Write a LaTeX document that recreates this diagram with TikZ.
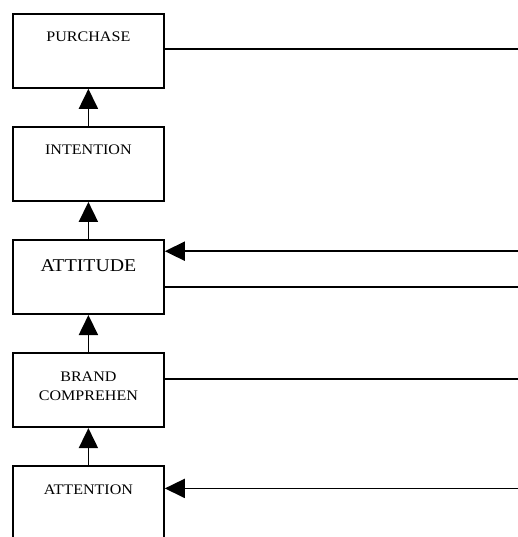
\documentclass[tikz,border=0pt]{standalone}
\usepackage{fontspec}
\setmainfont[FakeStretch=1.1]{Liberation Serif}
\usetikzlibrary{arrows.meta, positioning}

\begin{document}
\begin{tikzpicture}[
	x=1pt, y=-1pt,
	node distance=37.3pt and 0em,
	block/.style={rectangle, draw, line width=1.8pt, fill=white,
		minimum width=151pt, text width=147pt, align=center,
		inner xsep=2pt, inner ysep=0pt, text height=28pt, text depth=46pt,
		font=\fontsize{14.6}{19}\selectfont},
	line/.style={draw, line width=1.8pt},
	feed/.style={line, -{Triangle[length=20pt, width=19pt]}},
	]
	\useasboundingbox (0,0) rectangle (518,537);
	\coordinate (rim) at (518,0);
	
	\node [block, anchor=north west] (purchase) at (12,13) {PURCHASE};
	\node [block, below= of purchase] (intention) {INTENTION};
	\node [block, below= of intention, text height=31pt, text depth=43pt,
		font=\fontsize{18}{22}\selectfont] (attitude) {ATTITUDE};
	\node [block, below= of attitude] (brand) {BRAND\\COMPREHEN};
	\node [block, below= of brand] (attention) {ATTENTION};
	
	\draw [feed] (intention) -- (purchase);
	\draw [feed] (attitude) -- (intention);
	\draw [feed] (brand) -- (attitude);
	\draw [feed] (attention) -- (brand);
	
	\coordinate (pout) at ([yshift=-36pt]purchase.north east -| rim);
	\coordinate (ain) at ([yshift=-12pt]attitude.north east -| rim);
	\coordinate (aout) at ([yshift=-48pt]attitude.north east -| rim);
	\coordinate (bout) at ([yshift=-27pt]brand.north east -| rim);
	\coordinate (tin) at ([yshift=-23pt]attention.north east -| rim);
	
	\path [line] (purchase.east |- pout) -- (pout);
	\path [feed] (ain) -- (attitude.east |- ain);
	\path [line] (attitude.east |- aout) -- (aout);
	\path [line] (brand.east |- bout) -- (bout);
	\path [feed] (tin) -- (attention.east |- tin);
\end{tikzpicture}
\end{document}
